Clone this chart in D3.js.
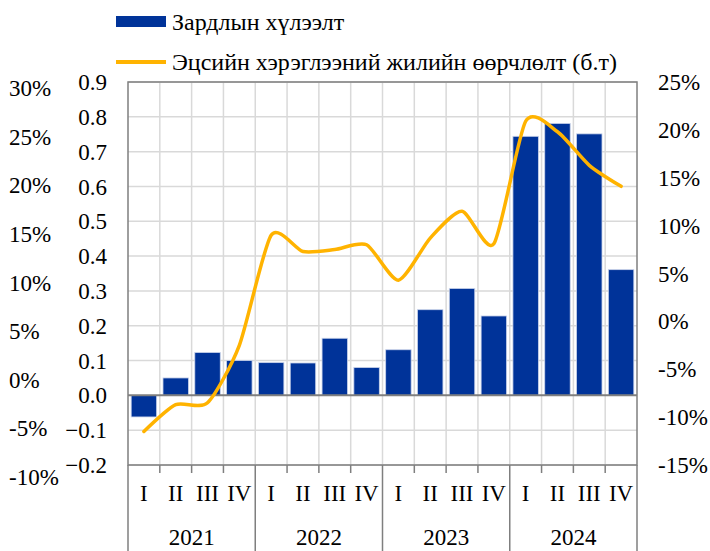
<!DOCTYPE html>
<html>
<head>
<meta charset="utf-8">
<script src="https://cdn.jsdelivr.net/npm/d3@7"></script>
<style>
  body { margin: 0; background: #fff; }
</style>
</head>
<body>
<div id="chart"></div>
<script>
// data
var years = ["2021", "2022", "2023", "2024"];
var quarters = ["I", "II", "III", "IV"];
var costExpect = [-0.062, 0.050, 0.123, 0.100, 0.094, 0.093, 0.164, 0.080,
                  0.131, 0.246, 0.307, 0.228, 0.744, 0.781, 0.751, 0.361];
var consumption = [-11.5, -8.7, -8.5, -2.5, 9.0, 7.3, 7.5, 8.0,
                   4.3, 8.7, 11.5, 8.1, 20.9, 19.8, 16.3, 14.1];
var barTicks = [-0.2, -0.1, 0, 0.1, 0.2, 0.3, 0.4, 0.5, 0.6, 0.7, 0.8, 0.9];
var rightTicks = [-15, -10, -5, 0, 5, 10, 15, 20, 25];
var leftPctTicks = [-10, -5, 0, 5, 10, 15, 20, 25, 30];
var legendNames = ["Зардлын хүлээлт", "Эцсийн хэрэглээний жилийн өөрчлөлт (б.т)"];

var width = 710, height = 551;
var plotL = 128, plotR = 637, plotT = 82, plotB = 465;
var fs = "23px";
var font = "'Liberation Serif', 'Times New Roman', serif";

var svg = d3.select("#chart").append("svg")
    .attr("width", width).attr("height", height)
    .attr("font-family", font);

var cats = [];
years.forEach(function (y) { quarters.forEach(function (q) { cats.push(y + "-" + q); }); });

var x = d3.scaleBand().domain(cats).range([plotL, plotR]).paddingInner(0.2).paddingOuter(0.1);
var yBar = d3.scaleLinear().domain([-0.2, 0.9]).range([plotB, plotT]);
var yLine = d3.scaleLinear().domain([-15, 25]).range([plotB, plotT]);
var yLeftPct = d3.scaleLinear().domain([-10, 30]).range([477, 88]);
var step = x.step();

// grid
var grid = svg.append("g");
grid.selectAll(".hg").data(barTicks.filter(function (d) { return d != 0; }))
    .enter().append("line")
    .attr("x1", plotL).attr("x2", plotR)
    .attr("y1", function (d) { return yBar(d); }).attr("y2", function (d) { return yBar(d); })
    .style("stroke", "#d9d9d9").style("stroke-width", 1.5);
grid.selectAll(".vg").data(cats.slice(1))
    .enter().append("line")
    .attr("x1", function (d) { return x(d) - step * x.paddingInner() / 2; })
    .attr("x2", function (d) { return x(d) - step * x.paddingInner() / 2; })
    .attr("y1", plotT).attr("y2", plotB)
    .style("stroke", "#d9d9d9").style("stroke-width", 1.5);

// bars
svg.selectAll(".bar").data(costExpect)
    .enter().append("rect")
    .attr("x", function (d, i) { return x(cats[i]); })
    .attr("width", x.bandwidth())
    .attr("y", function (d) { return yBar(Math.max(0, d)); })
    .attr("height", function (d) { return Math.abs(yBar(d) - yBar(0)); })
    .style("fill", "#003399")
    .style("stroke", "#c9d3ea").style("stroke-width", 0.8);

// frame
svg.append("rect").attr("x", plotL).attr("y", plotT)
    .attr("width", plotR - plotL).attr("height", plotB - plotT)
    .style("fill", "none").style("stroke", "#7f7f7f").style("stroke-width", 1.5);
svg.append("line").attr("x1", plotL).attr("x2", plotR)
    .attr("y1", yBar(0)).attr("y2", yBar(0))
    .style("stroke", "#7f7f7f").style("stroke-width", 2);

// line
var line = d3.line()
    .x(function (d, i) { return x(cats[i]) + x.bandwidth() / 2; })
    .y(function (d) { return yLine(d); })
    .curve(d3.curveCardinal.tension(0.3));
svg.append("path").datum(consumption)
    .attr("d", line)
    .style("fill", "none").style("stroke", "#ffb300").style("stroke-width", 3.5)
    .style("stroke-linecap", "round");

// inner left axis (bars)
svg.append("g").selectAll("text").data(barTicks)
    .enter().append("text")
    .attr("x", 107).attr("y", function (d) { return yBar(d); })
    .attr("dy", "0.35em").attr("text-anchor", "end")
    .attr("font-size", fs)
    .text(function (d) { return d3.format(".1f")(d); });

// outer left percent axis
svg.append("g").selectAll("text").data(leftPctTicks)
    .enter().append("text")
    .attr("x", 9).attr("y", function (d) { return yLeftPct(d); })
    .attr("dy", "0.35em").attr("text-anchor", "start")
    .attr("font-size", fs)
    .text(function (d) { return d + "%"; });

// right axis (line)
svg.append("g").selectAll("text").data(rightTicks)
    .enter().append("text")
    .attr("x", 658).attr("y", function (d) { return yLine(d); })
    .attr("dy", "0.35em").attr("text-anchor", "start")
    .attr("font-size", fs)
    .text(function (d) { return d + "%"; });

// category table below
var tbl = svg.append("g");
var groupW = step * 4;
tbl.selectAll(".sep").data(d3.range(years.length + 1))
    .enter().append("line")
    .attr("x1", function (i) { return plotL + i * groupW; })
    .attr("x2", function (i) { return plotL + i * groupW; })
    .attr("y1", plotB).attr("y2", height)
    .style("stroke", "#7f7f7f").style("stroke-width", 1.5);
tbl.selectAll(".tick").data(cats.filter(function (d, i) { return i % 4 != 0; }))
    .enter().append("line")
    .attr("x1", function (d) { return x(d) - step * x.paddingInner() / 2; })
    .attr("x2", function (d) { return x(d) - step * x.paddingInner() / 2; })
    .attr("y1", plotB).attr("y2", plotB + 8)
    .style("stroke", "#7f7f7f").style("stroke-width", 1.5);
tbl.selectAll(".q").data(cats)
    .enter().append("text")
    .attr("x", function (d) { return x(d) + x.bandwidth() / 2; })
    .attr("y", 493).attr("dy", "0.35em").attr("text-anchor", "middle")
    .attr("font-size", fs)
    .text(function (d) { return d.split("-")[1]; });
tbl.selectAll(".yr").data(years)
    .enter().append("text")
    .attr("x", function (d, i) { return plotL + (i + 0.5) * groupW; })
    .attr("y", 537).attr("dy", "0.35em").attr("text-anchor", "middle")
    .attr("font-size", fs)
    .text(function (d) { return d; });

// legend
var lg = svg.append("g");
lg.append("rect").attr("x", 116).attr("y", 16).attr("width", 50).attr("height", 11)
    .style("fill", "#003399");
lg.append("text").attr("x", 172).attr("y", 22).attr("dy", "0.35em")
    .attr("font-size", "24px").text(legendNames[0]);
lg.append("line").attr("x1", 116).attr("x2", 166).attr("y1", 62).attr("y2", 62)
    .style("stroke", "#ffb300").style("stroke-width", 4);
lg.append("text").attr("x", 172).attr("y", 62).attr("dy", "0.35em")
    .attr("font-size", "24px").text(legendNames[1]);
</script>
</body>
</html>
